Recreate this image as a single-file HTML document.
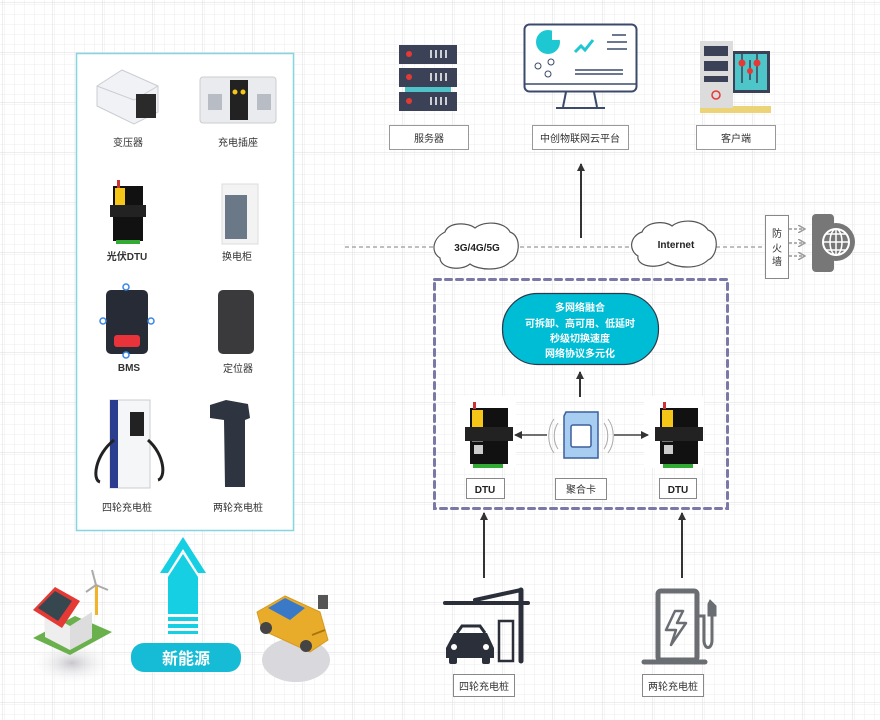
<!DOCTYPE html>
<html><head><meta charset="utf-8"><style>
html,body{margin:0;padding:0;background:#fff}
svg{display:block}
text{font-family:"Liberation Sans","Noto Sans CJK SC",sans-serif}
</style></head><body>
<svg width="880" height="720" viewBox="0 0 880 720" xmlns="http://www.w3.org/2000/svg">
<defs>
<pattern id="minor" width="10" height="10" patternUnits="userSpaceOnUse" x="2" y="2"><path d="M10 0H0V10" fill="none" stroke="#ececec" stroke-width="1"/></pattern>
<pattern id="major" width="50" height="50" patternUnits="userSpaceOnUse" x="2" y="2"><rect width="50" height="50" fill="url(#minor)"/><path d="M50 0H0V50" fill="none" stroke="#dedede" stroke-width="1"/></pattern>
<marker id="ah" markerWidth="8" markerHeight="8" refX="7" refY="4" orient="auto" markerUnits="userSpaceOnUse"><path d="M0 0L8 4L0 8z" fill="#333"/></marker>
<marker id="ag" markerWidth="8" markerHeight="8" refX="6" refY="4" orient="auto" markerUnits="userSpaceOnUse"><path d="M0 0L7 4L0 8" fill="none" stroke="#999" stroke-width="1.5"/></marker>
<radialGradient id="sh"><stop offset="0" stop-color="#c8c6cc"/><stop offset="1" stop-color="#fff" stop-opacity="0"/></radialGradient>
</defs>
<rect width="880" height="720" fill="url(#major)"/>

<rect x="76.5" y="53.5" width="217" height="477" fill="#fff" stroke="#86d5e2" stroke-width="1.5"/>
<!-- transformer -->
<path d="M97 86L122 70L158 86L158 112L134 124L97 106Z" fill="#f1f2f5" stroke="#c9ccd3"/>
<path d="M97 86L134 100L158 86" fill="none" stroke="#c9ccd3"/>
<rect x="136" y="94" width="20" height="24" fill="#2a2a2a"/>
<text x="128" y="146" font-size="10" text-anchor="middle" fill="#333">变压器</text>
<!-- socket -->
<rect x="200" y="77" width="76" height="46" rx="3" fill="#e9ebee" stroke="#ccc"/>
<rect x="230" y="80" width="18" height="40" fill="#222"/>
<rect x="208" y="94" width="14" height="16" fill="#b8bcc4"/><rect x="257" y="94" width="14" height="16" fill="#b8bcc4"/>
<circle cx="235" cy="92" r="2.5" fill="#f5c518"/><circle cx="243" cy="92" r="2.5" fill="#f5c518"/>
<text x="238" y="146" font-size="10" text-anchor="middle" fill="#333">充电插座</text>
<!-- pv dtu -->
<rect x="113" y="186" width="30" height="55" fill="#111"/>
<rect x="115" y="188" width="10" height="22" fill="#f5c518"/>
<rect x="110" y="205" width="36" height="12" fill="#222"/>
<rect x="116" y="240" width="24" height="4" fill="#3a3"/>
<rect x="117" y="180" width="3" height="8" fill="#c33"/>
<text x="127" y="260" font-size="10" text-anchor="middle" fill="#333" font-weight="bold">光伏DTU</text>
<!-- cabinet -->
<rect x="222" y="184" width="36" height="60" fill="#f3f3f3" stroke="#ddd"/>
<rect x="225" y="195" width="22" height="44" fill="#6b7888"/>
<text x="237" y="260" font-size="10" text-anchor="middle" fill="#333">换电柜</text>
<!-- BMS -->
<rect x="106" y="290" width="42" height="64" rx="5" fill="#262b36"/>
<rect x="114" y="335" width="26" height="12" rx="3" fill="#e8333a"/>
<g fill="#fff" stroke="#3a86e8" stroke-width="1.5"><circle cx="126" cy="287" r="3"/><circle cx="103" cy="321" r="3"/><circle cx="151" cy="321" r="3"/><circle cx="126" cy="355" r="3"/></g>
<text x="129" y="371" font-size="10" text-anchor="middle" fill="#333" font-weight="bold">BMS</text>
<!-- locator -->
<rect x="218" y="290" width="36" height="64" rx="5" fill="#3a3a3c"/>
<text x="238" y="372" font-size="10" text-anchor="middle" fill="#333">定位器</text>
<!-- 4 wheel pile -->
<rect x="110" y="400" width="40" height="88" fill="#f5f6f8" stroke="#ccc"/>
<rect x="110" y="400" width="8" height="88" fill="#2a3d8f"/>
<rect x="130" y="412" width="14" height="24" fill="#222"/>
<path d="M114 440C95 455 92 480 100 482M148 440C165 455 166 478 158 480" stroke="#222" stroke-width="3" fill="none"/>
<text x="127" y="511" font-size="10" text-anchor="middle" fill="#333">四轮充电桩</text>
<!-- 2 wheel pile -->
<path d="M210 405L226 400L248 404L250 418L245 420L245 487L225 487L224 420L210 418Z" fill="#2f3540"/>
<text x="238" y="511" font-size="10" text-anchor="middle" fill="#333">两轮充电桩</text>

<!-- new energy arrow -->
<path d="M183 537L206 573L198 573L183 549L168 573L160 573Z" fill="#16cfe2"/>
<path d="M183 554L198 577L198 614L168 614L168 577Z" fill="#16cfe2"/>
<rect x="168" y="617" width="30" height="4" fill="#16cfe2"/><rect x="168" y="624" width="30" height="4" fill="#16cfe2"/><rect x="168" y="631" width="30" height="3" fill="#16cfe2"/>
<rect x="131" y="643" width="110" height="29" rx="13" fill="#16bcd6"/>
<text x="186" y="664" font-size="16" text-anchor="middle" fill="#fff" font-weight="bold">新能源</text>
<!-- house -->
<ellipse cx="72" cy="663" rx="42" ry="22" fill="url(#sh)"/>
<path d="M33 638L70 655L112 632L75 616Z" fill="#6ab04c"/>
<path d="M45 612L70 626L70 650L45 637Z" fill="#eee"/><path d="M70 626L92 612L92 638L70 650Z" fill="#ddd"/>
<path d="M33 610L55 587L80 601L62 628Z" fill="#e53935"/>
<path d="M38 608L55 591L72 601L58 621Z" fill="#37474f"/>
<rect x="95" y="585" width="3" height="30" fill="#f0b429"/>
<path d="M96 585L92 570M96 585L108 590M96 585L86 592" stroke="#aaa" stroke-width="2"/>
<!-- car -->
<ellipse cx="296" cy="660" rx="34" ry="22" fill="#d9d8dc"/>
<path d="M257 612L285 596L320 612L328 640L310 652L262 630Z" fill="#e8ac2a" stroke="#d69a1c" stroke-linejoin="round"/>
<path d="M268 608L285 598L305 608L290 620Z" fill="#3a78c8"/>
<path d="M312 635L325 630" stroke="#a97510" stroke-width="2"/>
<circle cx="266" cy="628" r="6" fill="#444"/><circle cx="306" cy="646" r="6" fill="#444"/>
<rect x="318" y="595" width="10" height="14" fill="#555"/>

<!-- top icons -->
<g>
<rect x="405" y="70" width="46" height="40" fill="#4fc3c7"/>
<rect x="399" y="45" width="58" height="19" fill="#3b4257"/><rect x="399" y="68" width="58" height="19" fill="#3b4257"/><rect x="399" y="92" width="58" height="19" fill="#3b4257"/>
<circle cx="409" cy="54" r="3" fill="#e53935"/><circle cx="409" cy="77" r="3" fill="#e53935"/><circle cx="409" cy="101" r="3" fill="#e53935"/>
<g stroke="#fff" stroke-width="1.5"><path d="M431 50v8M436 50v8M441 50v8M446 50v8M431 73v8M436 73v8M441 73v8M446 73v8M431 97v8M436 97v8M441 97v8M446 97v8"/></g>
</g>
<rect x="389.5" y="125.5" width="79" height="24" fill="#fff" stroke="#999"/>
<text x="429" y="142" font-size="10" text-anchor="middle" fill="#333">服务器</text>

<rect x="524.5" y="24.5" width="112" height="67" rx="5" fill="#fff" stroke="#3b4a6b" stroke-width="2"/>
<line x1="525" y1="84" x2="636" y2="84" stroke="#3b4a6b" stroke-width="1.5"/>
<path d="M566 92L563 107M594 92L597 107M556 108H605" stroke="#3b4a6b" stroke-width="2" fill="none"/>
<circle cx="548" cy="42" r="12" fill="#1ec8d2"/><path d="M552 30A12 12 0 0 1 562 40L552 40Z" fill="#fff"/>
<path d="M575 52l6-6 4 4 8-10" stroke="#1ec8d2" stroke-width="3" fill="none"/>
<g stroke="#3b4a6b" stroke-width="1.5"><path d="M612 35h14M607 42h20M607 49h20M575 70h48M575 74h48"/></g>
<circle cx="538" cy="66" r="3" fill="none" stroke="#3b4a6b"/><circle cx="551" cy="62" r="3" fill="none" stroke="#3b4a6b"/><circle cx="548" cy="74" r="3" fill="none" stroke="#3b4a6b"/>
<rect x="532.5" y="125.5" width="96" height="24" fill="#fff" stroke="#999"/>
<text x="580" y="142" font-size="10" text-anchor="middle" fill="#333">中创物联网云平台</text>

<rect x="732" y="51" width="38" height="42" fill="#3b4257"/><rect x="735" y="54" width="32" height="36" fill="#4ec5c9"/>
<path d="M742 53v30M757 53v30M750 60v20" stroke="#3b4257" stroke-width="1.5"/>
<circle cx="742" cy="63" r="3.5" fill="#e53935"/><circle cx="757" cy="63" r="3.5" fill="#e53935"/><circle cx="750" cy="71" r="3" fill="#e53935"/>
<rect x="700" y="106" width="71" height="7" fill="#ecd378"/>
<rect x="700" y="41" width="33" height="67" fill="#dcdcdc"/>
<rect x="704" y="46" width="24" height="10" fill="#3b4257"/><rect x="704" y="61" width="24" height="10" fill="#3b4257"/><rect x="704" y="76" width="24" height="6" fill="#3b4257"/>
<circle cx="716" cy="95" r="4" fill="none" stroke="#e53935" stroke-width="1.5"/>
<rect x="696.5" y="125.5" width="79" height="24" fill="#fff" stroke="#999"/>
<text x="736" y="142" font-size="10" text-anchor="middle" fill="#333">客户端</text>

<!-- network line -->
<line x1="345" y1="247" x2="765" y2="247" stroke="#aaa" stroke-width="1.5" stroke-dasharray="4 3"/>
<line x1="581" y1="238" x2="581" y2="164" stroke="#333" stroke-width="2" marker-end="url(#ah)"/>
<path d="M445 232C448 222 468 222 475 228C485 220 505 222 510 232C522 236 520 258 510 262C500 272 478 270 470 264C460 272 440 268 440 258C430 252 433 238 445 232Z" fill="#fff" stroke="#555" stroke-width="1.2"/>
<text x="477" y="251" font-size="10" text-anchor="middle" fill="#222" font-weight="bold">3G/4G/5G</text>
<path d="M642 232C646 222 664 220 672 226C682 218 702 220 708 230C720 234 718 256 708 260C698 270 676 268 668 262C656 270 636 266 638 256C628 250 630 236 642 232Z" fill="#fff" stroke="#555" stroke-width="1.2"/>
<text x="676" y="248" font-size="10" text-anchor="middle" fill="#222" font-weight="bold">Internet</text>
<rect x="765.5" y="215.5" width="23" height="63" fill="#fff" stroke="#888"/>
<text x="777" y="237" font-size="10" text-anchor="middle" fill="#333">防</text>
<text x="777" y="252" font-size="10" text-anchor="middle" fill="#333">火</text>
<text x="777" y="265" font-size="10" text-anchor="middle" fill="#333">墙</text>
<g stroke="#999" stroke-width="1.5" stroke-dasharray="3 2"><line x1="789" y1="229" x2="804" y2="229" marker-end="url(#ag)"/><line x1="789" y1="243" x2="804" y2="243" marker-end="url(#ag)"/><line x1="789" y1="256" x2="804" y2="256" marker-end="url(#ag)"/></g>
<rect x="812" y="214" width="22" height="58" rx="4" fill="#777"/>
<circle cx="836" cy="242" r="19" fill="#777"/><circle cx="836" cy="242" r="13" fill="none" stroke="#fff" stroke-width="2"/>
<path d="M823 242h26M836 229v26M826 234h20M826 250h20" stroke="#fff" stroke-width="1.5"/><ellipse cx="836" cy="242" rx="6" ry="13" fill="none" stroke="#fff" stroke-width="1.5"/>

<!-- dashed box -->
<rect x="434.5" y="279.5" width="293" height="229" fill="none" stroke="#7a78a6" stroke-width="3" stroke-dasharray="6 5" stroke-linecap="round"/>
<rect x="502.5" y="293.5" width="156" height="71" rx="35" fill="#00bdd6" stroke="#2b3a4a" stroke-width="1.2"/>
<g font-size="10" fill="#fff" font-weight="bold" text-anchor="middle">
<text x="580" y="311">多网络融合</text><text x="580" y="327">可拆卸、高可用、低延时</text><text x="580" y="342">秒级切换速度</text><text x="580" y="357">网络协议多元化</text></g>
<line x1="580" y1="397" x2="580" y2="372" stroke="#333" stroke-width="2" marker-end="url(#ah)"/>
<rect x="456" y="396" width="60" height="72" fill="#fff"/>
<rect x="644" y="396" width="60" height="72" fill="#fff"/>
<g>
<rect x="470" y="408" width="38" height="56" fill="#111"/><rect x="472" y="410" width="11" height="20" fill="#f5c518"/><rect x="472" y="430" width="11" height="12" fill="#777"/>
<rect x="465" y="427" width="48" height="14" fill="#222"/><rect x="473" y="464" width="30" height="4" fill="#3a3"/><rect x="473" y="402" width="3" height="7" fill="#c33"/><rect x="474" y="445" width="9" height="9" fill="#ccc"/>
</g>
<g>
<rect x="660" y="408" width="38" height="56" fill="#111"/><rect x="662" y="410" width="11" height="20" fill="#f5c518"/><rect x="662" y="430" width="11" height="12" fill="#777"/>
<rect x="655" y="427" width="48" height="14" fill="#222"/><rect x="663" y="464" width="30" height="4" fill="#3a3"/><rect x="663" y="402" width="3" height="7" fill="#c33"/><rect x="664" y="445" width="9" height="9" fill="#ccc"/>
</g>
<path d="M566 412H598V458H564V416Z" fill="#a7cdf0" stroke="#3c5f9c" stroke-width="1.5"/>
<rect x="571" y="425" width="20" height="22" rx="2" fill="#fff" stroke="#3c5f9c" stroke-width="1.5"/>
<path d="M558 423C553 430 553 442 558 449M604 423C609 430 609 442 604 449M554 419C547 428 547 444 554 453M608 419C615 428 615 444 608 453" stroke="#aaa" fill="none"/>
<line x1="547" y1="435" x2="515" y2="435" stroke="#444" stroke-width="1.5" marker-end="url(#ah)"/>
<line x1="614" y1="435" x2="648" y2="435" stroke="#444" stroke-width="1.5" marker-end="url(#ah)"/>
<rect x="466.5" y="478.5" width="38" height="20" fill="#fff" stroke="#888"/><text x="485" y="493" font-size="10" text-anchor="middle" fill="#222" font-weight="bold">DTU</text>
<rect x="555.5" y="478.5" width="51" height="21" fill="#fff" stroke="#888"/><text x="581" y="493" font-size="10" text-anchor="middle" fill="#333">聚合卡</text>
<rect x="659.5" y="478.5" width="37" height="20" fill="#fff" stroke="#888"/><text x="678" y="493" font-size="10" text-anchor="middle" fill="#222" font-weight="bold">DTU</text>

<line x1="484" y1="578" x2="484" y2="513" stroke="#333" stroke-width="2" marker-end="url(#ah)"/>
<line x1="682" y1="578" x2="682" y2="513" stroke="#333" stroke-width="2" marker-end="url(#ah)"/>

<g fill="#2a2f3a" stroke="#2a2f3a">
<path d="M445 603H528M475 600L521 590" stroke-width="4" stroke-linecap="round" fill="none"/>
<line x1="521" y1="590" x2="521" y2="661" stroke-width="5" stroke-linecap="round"/>
<rect x="499" y="621" width="14" height="40" fill="none" stroke-width="2.5"/>
<path d="M454 633H487L494 648V658H446V648Z" stroke="none"/>
<path d="M457 633L462 626H480L485 633" stroke-width="3" fill="none"/>
<rect x="449" y="656" width="8" height="8" rx="2" stroke="none"/><rect x="482" y="656" width="8" height="8" rx="2" stroke="none"/>
</g>
<circle cx="454" cy="647" r="3" fill="#fff"/><circle cx="486" cy="647" r="3" fill="#fff"/>
<rect x="453.5" y="674.5" width="61" height="22" fill="#fff" stroke="#888"/><text x="484" y="690" font-size="10" text-anchor="middle" fill="#333">四轮充电桩</text>
<g stroke="#6a6d72" fill="none">
<rect x="658" y="591" width="39" height="69" rx="3" stroke-width="5"/>
<line x1="644" y1="662" x2="705" y2="662" stroke-width="5" stroke-linecap="round"/>
<path d="M699 616H704V640C704 650 712 650 712 640V604" stroke-width="3"/>
<path d="M710 600L716 606V616H708V604Z" fill="#6a6d72" stroke-width="1"/>
</g>
<path d="M675 611L666 630H676L671 645L686 623H677L683 611Z" fill="none" stroke="#6a6d72" stroke-width="2.5" stroke-linejoin="round"/>
<rect x="642.5" y="674.5" width="61" height="22" fill="#fff" stroke="#888"/><text x="673" y="690" font-size="10" text-anchor="middle" fill="#333">两轮充电桩</text>
</svg>
</body></html>
